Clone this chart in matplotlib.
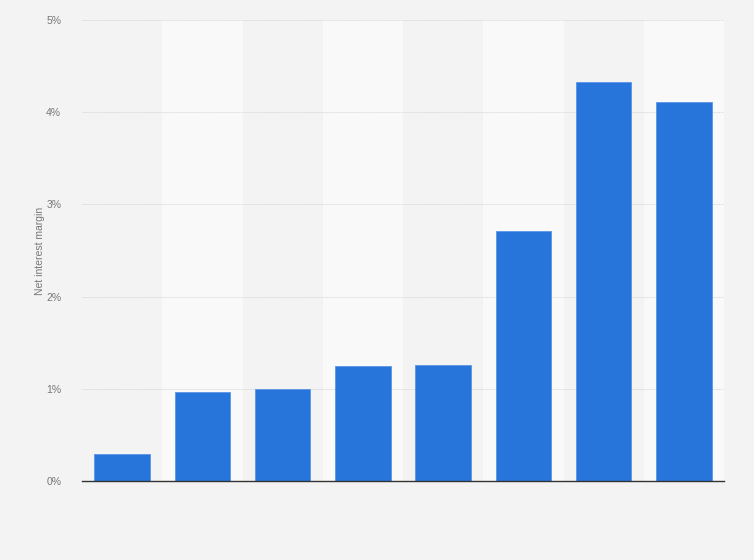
import matplotlib
matplotlib.use('Agg')
import matplotlib.pyplot as plt
from matplotlib.ticker import FuncFormatter

plt.rcParams['font.family'] = ['Liberation Sans', 'DejaVu Sans']

# values, in percent
categories = ['1', '2', '3', '4', '5', '6', '7', '8']
margin = [0.29, 0.97, 1.00, 1.25, 1.26, 2.71, 4.33, 4.11]
y_ticks = [0, 1, 2, 3, 4, 5]

bg = '#f3f3f3'
band = '#f9f9f9'
bar_color = '#2775db'

fig = plt.figure(figsize=(7.54, 5.6), dpi=100, facecolor=bg)
ax = fig.add_axes([0.1088, 0.1411, 0.8514, 0.8232])
ax.set_facecolor(bg)

x = list(range(len(categories)))
for i in x:
    if i % 2 == 1:
        ax.axvspan(i - 0.5, i + 0.5, color=band, zorder=0, lw=0)

ax.bar(x, margin, width=0.69, color=bar_color, edgecolor='#5a95e6', linewidth=0.6, zorder=3)

ax.set_xlim(-0.5, len(categories) - 0.5)
ax.set_ylim(0, 5)
ax.set_yticks(y_ticks)
ax.yaxis.set_major_formatter(FuncFormatter(lambda v, p: f'{v:.0f}%'))
ax.set_xticks([])
ax.grid(axis='y', color='#cfcfcf', linestyle=(0, (1, 1)), linewidth=0.6, zorder=1)
ax.tick_params(axis='y', length=0, labelsize=7.5, labelcolor='#777777', pad=15)

for s in ['top', 'right', 'left']:
    ax.spines[s].set_visible(False)
ax.spines['bottom'].set_color('#333333')
ax.spines['bottom'].set_linewidth(1.0)
ax.spines['bottom'].set_zorder(4)

ax.set_ylabel('Net interest margin', fontsize=7.5, color='#777777')
ax.yaxis.set_label_coords(-0.058, 0.5)

fig.savefig('out.png', dpi=100, facecolor=bg)
